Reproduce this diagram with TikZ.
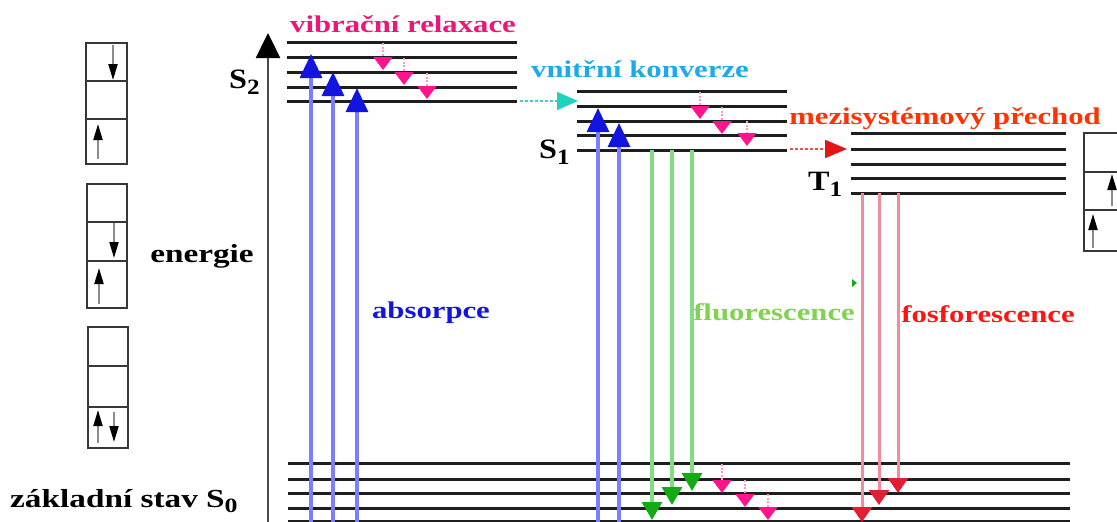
\documentclass[tikz,border=0pt]{standalone}
\usepackage{fontspec}
\setmainfont{Liberation Serif}
\usetikzlibrary{arrows.meta}
\definecolor{levelc}{RGB}{30,30,30}
\definecolor{boxc}{RGB}{55,55,55}
\definecolor{absline}{RGB}{125,125,255}
\definecolor{abshead}{RGB}{20,20,225}
\definecolor{vibline}{RGB}{255,150,200}
\definecolor{vibhead}{RGB}{255,20,140}
\definecolor{vibtext}{RGB}{240,20,120}
\definecolor{ictext}{RGB}{30,170,230}
\definecolor{icline}{RGB}{70,200,215}
\definecolor{ichead}{RGB}{30,210,190}
\definecolor{iscline}{RGB}{240,80,80}
\definecolor{ischead}{RGB}{230,20,20}
\definecolor{isctext}{RGB}{255,50,0}
\definecolor{fluline}{RGB}{130,220,130}
\definecolor{fluhead}{RGB}{20,170,20}
\definecolor{flutext}{RGB}{130,210,80}
\definecolor{pholine}{RGB}{240,140,155}
\definecolor{phohead}{RGB}{225,30,50}
\definecolor{photext}{RGB}{255,20,20}
\definecolor{spinline}{RGB}{140,140,140}
\newcommand{\wtxt}[1]{\scalebox{1.28}[1]{#1}}
\newcommand{\subs}[1]{\raisebox{-0.22em}{\scalebox{0.78}{#1}}}
\tikzset{
  level/.style={draw=levelc, line width=3pt},
  cell/.style={draw=boxc, line width=2.4pt},
  spin/.style={draw=spinline, line width=2pt, -{Triangle[width=9pt,length=16pt,color=black]}},
  absarr/.style={draw=absline, line width=3.2pt, -{Triangle[width=22pt,length=24pt,color=abshead]}},
  vibarr/.style={draw=vibline, line width=1.6pt, dash pattern=on 2pt off 1.5pt, -{Triangle[width=19pt,length=13pt,color=vibhead]}},
  fluarr/.style={draw=fluline, line width=3.2pt, -{Triangle[width=20pt,length=18pt,color=fluhead]}},
  phoarr/.style={draw=pholine, line width=3pt, -{Triangle[width=20pt,length=15pt,color=phohead]}},
  lbl/.style={font=\fontsize{24}{28}\selectfont\bfseries, inner sep=0pt, anchor=base},
  blbl/.style={font=\fontsize{26}{30}\selectfont\bfseries, inner sep=0pt},
  slbl/.style={font=\fontsize{28}{32}\selectfont\bfseries, inner sep=0pt, anchor=base west},
}
\begin{document}
\begin{tikzpicture}[x=1pt,y=-1pt]
\useasboundingbox (0,0) rectangle (1117,522);
% spin boxes left
\draw[cell] (86,43) rectangle (127,164);
\draw[cell] (86,81) -- (127,81) (86,119) -- (127,119);
\draw[spin] (113,45) -- (113,80);
\draw[spin] (98,159) -- (98,124);
\draw[cell] (87,184) rectangle (127,308);
\draw[cell] (87,222) -- (127,222) (87,261) -- (127,261);
\draw[spin] (114,223) -- (114,258);
\draw[spin] (99,304) -- (99,268);
\draw[cell] (88,327) rectangle (128,448);
\draw[cell] (88,366) -- (128,366) (88,407) -- (128,407);
\draw[spin] (98,443) -- (98,410);
\draw[spin] (114,412) -- (114,442);
% spin box right
\draw[cell] (1117,133) -- (1084,133) -- (1084,251) -- (1117,251);
\draw[cell] (1084,172) -- (1117,172) (1084,210) -- (1117,210);
\draw[spin] (1112,206) -- (1112,174);
\draw[spin] (1093,248) -- (1093,214);
% energy axis
\coordinate (ax0) at (268,522);
\coordinate (ax1) at (268,33);
\draw[draw=black!70, line width=2.4pt, -{Triangle[width=24pt,length=25pt,color=black]}] (ax0) -- (ax1);
% levels
\foreach \y in {42,57,72,87,101} \draw[level] (287,\y) -- (517,\y);
\foreach \y in {91,106,121,135,150} \draw[level] (577,\y) -- (787,\y);
\foreach \y in {133,149,164,178,193} \draw[level] (851,\y) -- (1066,\y);
\foreach \y in {463,479,493,508,521} \draw[level] (288,\y) -- (1070,\y);
% absorption
\draw[absarr] (311,522) -- (311,54);
\draw[absarr] (333,522) -- (333,72);
\draw[absarr] (357,522) -- (357,88);
\draw[absarr] (598,522) -- (598,108);
\draw[absarr] (619,522) -- (619,123);
% vibrational relaxation
\draw[vibarr] (383,43) -- (383,70);
\draw[vibarr] (404,58) -- (404,85);
\draw[vibarr] (427,73) -- (427,99);
\draw[vibarr] (700,92) -- (700,119);
\draw[vibarr] (722,107) -- (722,134);
\draw[vibarr] (747,121) -- (747,146);
\draw[vibarr] (722,464) -- (722,493);
\draw[vibarr] (745,480) -- (745,507);
\draw[vibarr] (768,494) -- (768,520);
% internal conversion
\draw[draw=icline, line width=1.8pt, dash pattern=on 3pt off 2pt, -{Triangle[width=18pt,length=21pt,color=ichead]}] (520,101) -- (578,101);
% intersystem crossing
\draw[draw=iscline, line width=1.8pt, dash pattern=on 3pt off 2pt, -{Triangle[width=18pt,length=22pt,color=ischead]}] (790,149) -- (847,149);
% fluorescence
\draw[fluarr] (652,150) -- (652,520);
\draw[fluarr] (672,150) -- (672,505);
\draw[fluarr] (692,150) -- (692,491);
\fill[fluhead] (852,279) -- (857,283) -- (852,287) -- cycle;
% phosphorescence
\draw[phoarr] (862,193) -- (862,522);
\draw[phoarr] (879,193) -- (879,505);
\draw[phoarr] (898,193) -- (898,493);
% labels
\node[lbl, text=vibtext] (vib) at (403,32) {\wtxt{vibrační relaxace}};
\node[lbl, text=ictext] (ic) at (640,77) {\wtxt{vnitřní konverze}};
\node[lbl, text=isctext] (isc) at (945,124) {\wtxt{mezisystémový přechod}};
\node[lbl, text=abshead] (abs) at (431,318) {\wtxt{absorpce}};
\node[lbl, text=flutext] (flu) at (774,320) {\wtxt{fluorescence}};
\node[lbl, text=photext] (pho) at (988,322) {\wtxt{fosforescence}};
\node[blbl, anchor=base] (en) at (202,262) {\wtxt{energie}};
\node[blbl, anchor=base west] (s0) at (10,507) {\wtxt{základní stav S\subs{0}}};
\node[slbl] (s2) at (229,88) {\scalebox{1.15}[1]{S\subs{2}}};
\node[slbl] (s1) at (539,158) {\scalebox{1.15}[1]{S\subs{1}}};
\node[slbl] (t1) at (808,190) {\scalebox{1.15}[1]{T\subs{1}}};
\end{tikzpicture}
\end{document}
